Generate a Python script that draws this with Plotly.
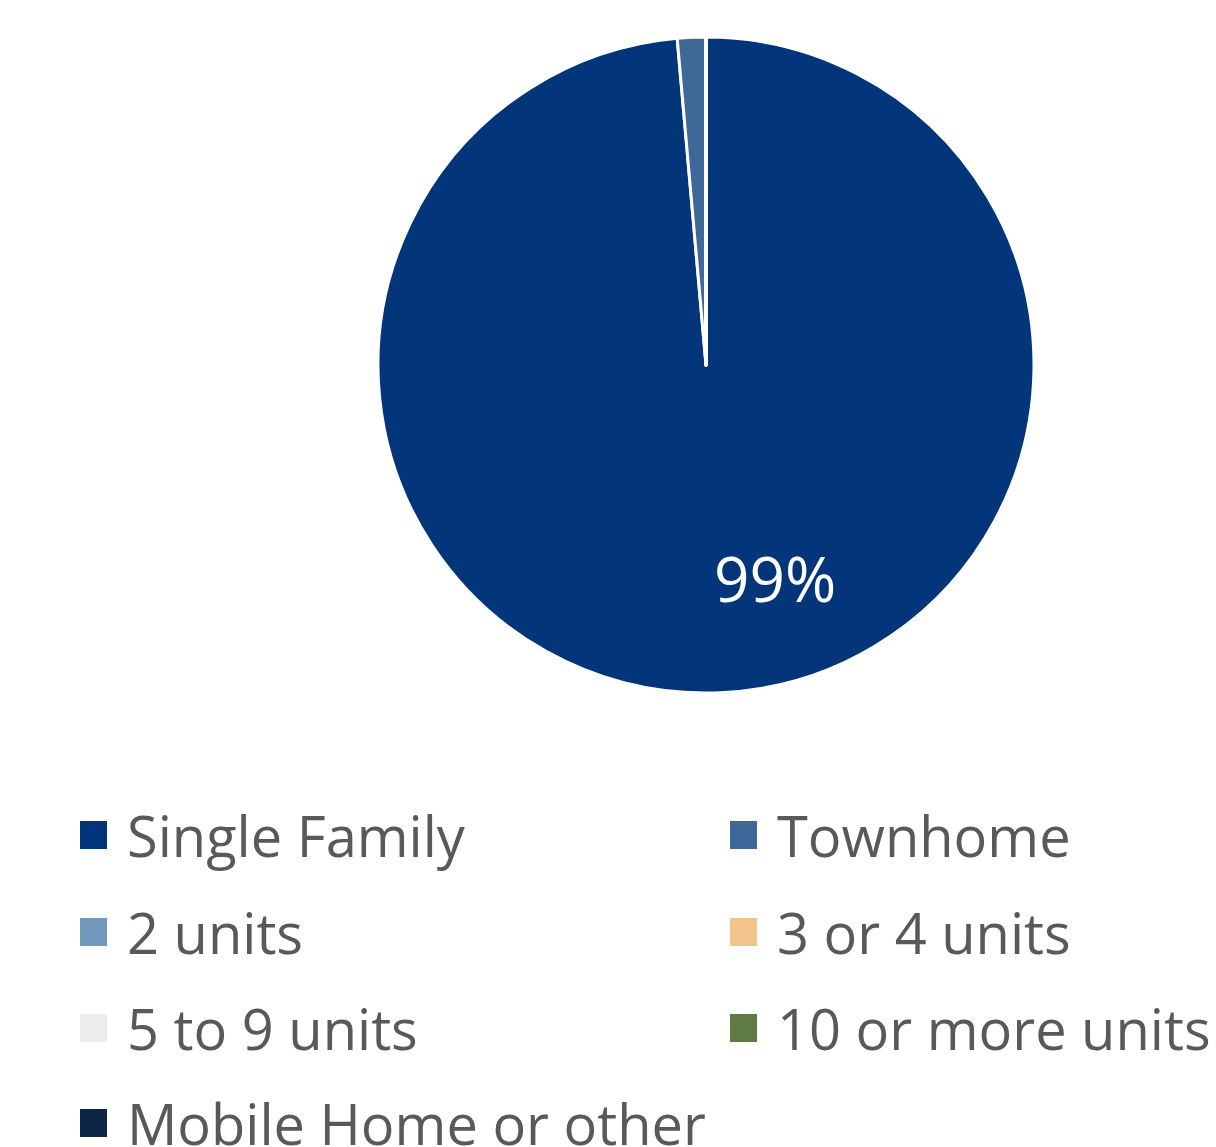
import plotly.graph_objects as go

categories = ["Single Family", "Townhome", "2 units", "3 or 4 units",
              "5 to 9 units", "10 or more units", "Mobile Home or other"]
shares = [98.6, 1.4, 0, 0, 0, 0, 0]
slice_labels = ["99%", "", "", "", "", "", ""]
colors = ["#02357a", "#3d6898", "#6f98bb", "#f3c38c", "#ececec", "#5f7a42", "#0c2549"]

W, H = 1216, 1147
fig = go.Figure()
fig.add_trace(go.Pie(
    labels=categories, values=shares, sort=False, direction="clockwise", rotation=0,
    marker=dict(colors=colors, line=dict(color="white", width=3)),
    textinfo="none",
    domain=dict(x=[378 / W, 1034 / W], y=[1 - 693 / H, 1 - 37 / H]),
    showlegend=False, hoverinfo="label+percent",
))

# data label for the dominant slice
fig.add_annotation(x=775 / W, y=1 - 578 / H, xref="paper", yref="paper",
                   text=slice_labels[0], showarrow=False,
                   xanchor="center", yanchor="middle",
                   font=dict(family="Open Sans", size=62, color="white"))

# manual legend (two columns)
col_x = [80, 730]
row_y = [835, 932, 1028, 1123]
for i, (name, col) in enumerate(zip(categories, colors)):
    cx = col_x[i % 2]
    cy = row_y[i // 2]
    fig.add_shape(type="rect", xref="paper", yref="paper",
                  x0=cx / W, x1=(cx + 27) / W, y0=1 - (cy + 14) / H, y1=1 - (cy - 14) / H,
                  fillcolor=col, line=dict(width=0))
    fig.add_annotation(x=(cx + 45) / W, y=1 - cy / H, xref="paper", yref="paper",
                       text=name, showarrow=False, xanchor="left", yanchor="middle",
                       font=dict(family="Open Sans", size=56, color="#595959"))

fig.update_layout(width=W, height=H, margin=dict(l=0, r=0, t=0, b=0),
                  paper_bgcolor="white", plot_bgcolor="white")
fig.write_html("out.html")
